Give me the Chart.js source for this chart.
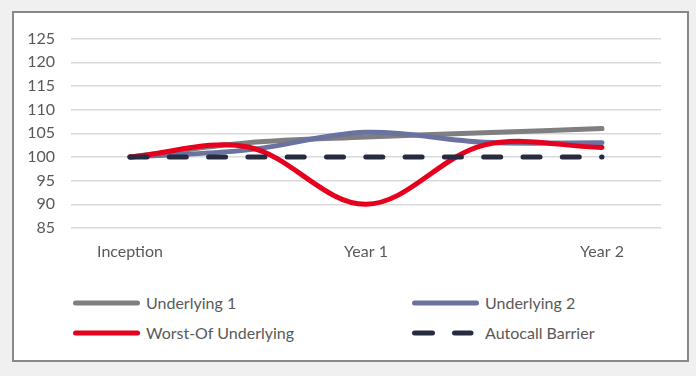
<!DOCTYPE html>
<html>
<head>
<meta charset="utf-8">
<script src="https://cdn.jsdelivr.net/npm/chart.js@4.4.1/dist/chart.umd.min.js"></script>
<style>
    html, body { margin: 0; padding: 0; }
    body { width: 696px; height: 376px; background: #f0f0f0; position: relative; overflow: hidden; font-family: Lato, "Open Sans", sans-serif; }
    #panel { position: absolute; left: 12px; top: 11px; width: 673px; height: 347px; background: #fff; border: 2px solid #888; }
    #chart { position: absolute; left: 14px; top: 13px; }
    .item { position: absolute; height: 20px; line-height: 20px; font-size: 16px; color: #595959; white-space: nowrap; }
    .item svg { position: absolute; left: 0; top: 5px; }
    .item span { position: absolute; left: 74px; top: 0; }
</style>
</head>
<body>
<div id="panel"></div>
<canvas id="chart" width="672" height="251"></canvas>
<div id="legend"></div>
<script>
// Données
const categories = ["Inception", "", "Year 1", "", "Year 2"];
const seriesNames = ["Underlying 1", "Underlying 2", "Worst-Of Underlying", "Autocall Barrier"];
const underlying1 = [100, 103, 104.2, 105.1, 106];
const underlying2 = [100, 101.5, 105.2, 103.1, 103];
const worstOf = [100, 102.1, 90, 102.5, 102];
const barrier = [100, 100, 100, 100, 100];
const yMin = 85;
const yMax = 125;
const yStep = 5;

const colors = ["#7f7f7f", "#6a73a0", "#e6001e", "#262b3f"];

const ctx = document.getElementById("chart").getContext("2d");
const myChart = new Chart(ctx, {
    type: "line",
    data: {
        labels: categories,
        datasets: [
            { label: seriesNames[0], data: underlying1, borderColor: colors[0], borderWidth: 5, tension: 0.35, order: 3 },
            { label: seriesNames[1], data: underlying2, borderColor: colors[1], borderWidth: 5, tension: 0.35, order: 2 },
            { label: seriesNames[2], data: worstOf, borderColor: colors[2], borderWidth: 5, tension: 0.35, order: 1 },
            { label: seriesNames[3], data: barrier, borderColor: colors[3], borderWidth: 5, tension: 0,
              borderDash: [17, 22.3], order: 0 }
        ]
    },
    options: {
        responsive: false,
        animation: false,
        devicePixelRatio: 1,
        layout: { padding: { left: 0, right: 25, top: 25, bottom: 0 } },
        elements: {
            point: { radius: 0, hoverRadius: 0 },
            line: { borderCapStyle: "round", borderJoinStyle: "round", fill: false }
        },
        plugins: {
            legend: { display: false },
            tooltip: { enabled: false }
        },
        scales: {
            x: {
                offset: true,
                afterFit: function (scale) { scale.height = 36; },
                grid: { display: false, drawTicks: false },
                border: { display: false },
                ticks: {
                    autoSkip: false,
                    maxRotation: 0,
                    padding: 14,
                    color: "#595959",
                    font: { family: "Lato", size: 16 }
                }
            },
            y: {
                min: yMin,
                max: yMax,
                afterFit: function (scale) { scale.width = 57; },
                grid: { color: "#d9d9d9", lineWidth: 1.5, drawTicks: false },
                border: { display: false },
                ticks: {
                    stepSize: yStep,
                    padding: 16,
                    color: "#595959",
                    font: { family: "Lato", size: 16 }
                }
            }
        }
    }
});

// Légende en deux colonnes, comme dans Excel
const legend = document.getElementById("legend");
const legendPos = [[72, 293], [411, 293], [72, 323], [411, 323]];
myChart.data.datasets.forEach(function (ds, i) {
    const item = document.createElement("div");
    item.className = "item";
    item.style.left = legendPos[i][0] + "px";
    item.style.top = legendPos[i][1] + "px";
    const dash = ds.borderDash ? ' stroke-dasharray="18 22"' : "";
    item.innerHTML = '<svg width="72" height="10"><line x1="3.5" y1="5" x2="' + (ds.borderDash ? 60 : 65.5) +
        '" y2="5" stroke="' + ds.borderColor + '" stroke-width="5" stroke-linecap="round"' + dash + '/></svg>' +
        '<span>' + ds.label + '</span>';
    legend.appendChild(item);
});
</script>
</body>
</html>
